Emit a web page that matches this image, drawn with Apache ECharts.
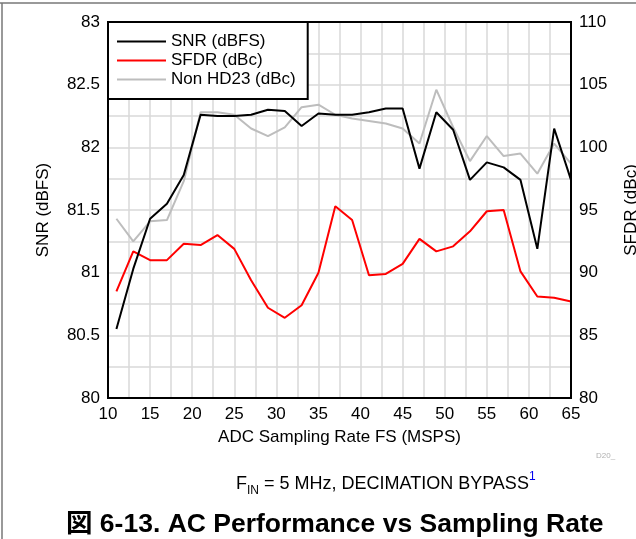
<!DOCTYPE html>
<html>
<head>
<meta charset="utf-8">
<script src="https://cdn.jsdelivr.net/npm/echarts@6/dist/echarts.min.js"></script>
<style>
  html, body { margin: 0; padding: 0; background: #fff; overflow: hidden; }
  #chart { width: 636px; height: 539px; }
</style>
</head>
<body>
<div id="chart"></div>
<script>
// 采样率 (MSPS)
const rates = [11, 13, 15, 17, 19, 21, 23, 25, 27, 29, 31, 33, 35, 37, 39, 41, 43, 45, 47, 49, 51, 53, 55, 57, 59, 61, 63, 65];
// SNR (dBFS) - 左轴
const snr = [80.55, 81.03, 81.43, 81.55, 81.78, 82.26, 82.25, 82.25, 82.26, 82.30, 82.29, 82.17, 82.27, 82.26, 82.26, 82.28, 82.31, 82.31, 81.83, 82.28, 82.14, 81.74, 81.88, 81.84, 81.74, 81.19, 82.15, 81.74];
// SFDR (dBc) - 右轴
const sfdr = [88.5, 91.7, 91.0, 91.0, 92.3, 92.2, 93.0, 91.9, 89.4, 87.2, 86.4, 87.4, 90.0, 95.3, 94.2, 89.8, 89.9, 90.7, 92.7, 91.7, 92.1, 93.3, 94.9, 95.0, 90.1, 88.1, 88.0, 87.7];
// Non HD23 (dBc) - 右轴
const nonHd23 = [94.3, 92.5, 94.1, 94.2, 97.3, 102.8, 102.8, 102.6, 101.5, 100.9, 101.6, 103.2, 103.4, 102.6, 102.3, 102.1, 101.9, 101.5, 100.3, 104.6, 101.6, 98.9, 100.9, 99.3, 99.5, 97.9, 100.3, 98.7];

const FONT = 'Liberation Sans, Arial, Helvetica, sans-serif';
const gridLine = { show: true, lineStyle: { color: '#d9d9d9', width: 1.5 } };

const toPairs = arr => arr.map((v, i) => [rates[i], v]);

const chart = echarts.init(document.getElementById('chart'), null, { width: 636, height: 539 });
chart.setOption({
  animation: false,
  backgroundColor: '#fff',
  textStyle: { fontFamily: FONT },
  grid: {
    left: 108, right: 65, top: 22, bottom: 141,
    outerBoundsMode: 'none', containLabel: false,
    show: true, borderColor: '#000', borderWidth: 2, z: 5
  },
  legend: {
    left: 108, top: 22,
    orient: 'vertical',
    backgroundColor: '#fff',
    borderColor: '#000',
    borderWidth: 2,
    padding: [10, 12, 10, 9],
    itemGap: 0,
    itemWidth: 49,
    itemHeight: 2,
    icon: 'rect',
    textStyle: { fontSize: 17, color: '#000', fontFamily: FONT, lineHeight: 19 },
    data: ['SNR (dBFS)', 'SFDR (dBc)', 'Non HD23 (dBc)']
  },
  xAxis: {
    type: 'value', min: 10, max: 65, interval: 5,
    name: 'ADC Sampling Rate FS (MSPS)', nameLocation: 'middle', nameGap: 31,
    nameTextStyle: { fontSize: 17, color: '#000' },
    axisLine: { show: false }, axisTick: { show: false },
    axisLabel: { fontSize: 17, color: '#000', margin: 8 },
    splitLine: gridLine,
    minorTick: { show: false, splitNumber: 2 },
    minorSplitLine: gridLine
  },
  yAxis: [{
    type: 'value', min: 80, max: 83, interval: 0.5,
    name: 'SNR (dBFS)', nameLocation: 'middle', nameGap: 56,
    nameTextStyle: { fontSize: 17, color: '#000' },
    axisLine: { show: false }, axisTick: { show: false },
    axisLabel: { fontSize: 17, color: '#000', margin: 8 },
    splitLine: gridLine,
    minorTick: { show: false, splitNumber: 2 },
    minorSplitLine: gridLine
  }, {
    type: 'value', min: 80, max: 110, interval: 5,
    name: 'SFDR (dBc)', nameLocation: 'middle', nameGap: 52,
    nameTextStyle: { fontSize: 17, color: '#000' },
    axisLine: { show: false }, axisTick: { show: false },
    axisLabel: { fontSize: 17, color: '#000', margin: 8 },
    splitLine: { show: false }
  }],
  series: [{
    name: 'SNR (dBFS)', type: 'line', yAxisIndex: 0, data: toPairs(snr),
    showSymbol: false, color: '#000', lineStyle: { width: 2 }, z: 3
  }, {
    name: 'SFDR (dBc)', type: 'line', yAxisIndex: 1, data: toPairs(sfdr),
    showSymbol: false, color: '#ff0000', lineStyle: { width: 2 }, z: 2
  }, {
    name: 'Non HD23 (dBc)', type: 'line', yAxisIndex: 1, data: toPairs(nonHd23),
    showSymbol: false, color: '#bdbdbd', lineStyle: { width: 2 }, z: 2
  }],
  graphic: [
    // 外框
    { type: 'line', shape: { x1: 0, y1: 3, x2: 636, y2: 3 }, style: { stroke: '#777', lineWidth: 1.5 } },
    { type: 'line', shape: { x1: 2, y1: 3, x2: 2, y2: 539 }, style: { stroke: '#777', lineWidth: 1.5 } },
    { type: 'text', left: 596, top: 452, style: { text: 'D20_', fontSize: 8, fill: '#b0b0b0', fontFamily: FONT } },
    {
      type: 'text', left: 236, top: 471,
      style: {
        text: '{n|F}{s|IN}{n| = 5 MHz, DECIMATION BYPASS}{p|1}',
        fontFamily: FONT,
        rich: {
          n: { fontSize: 18, fill: '#000', lineHeight: 26, verticalAlign: 'middle', fontFamily: FONT },
          s: { fontSize: 12, fill: '#000', lineHeight: 12, verticalAlign: 'bottom', fontFamily: FONT },
          p: { fontSize: 12, fill: '#0000ee', lineHeight: 12, verticalAlign: 'top', fontFamily: FONT }
        }
      }
    },
    {
      type: 'text', left: 66, top: 511,
      style: { text: '図 6-13. AC Performance vs Sampling Rate', fontSize: 26.5, fontWeight: 'bold', fill: '#000', fontFamily: 'Liberation Sans, Arial, Noto Sans CJK JP, sans-serif' }
    }
  ]
});
</script>
</body>
</html>
